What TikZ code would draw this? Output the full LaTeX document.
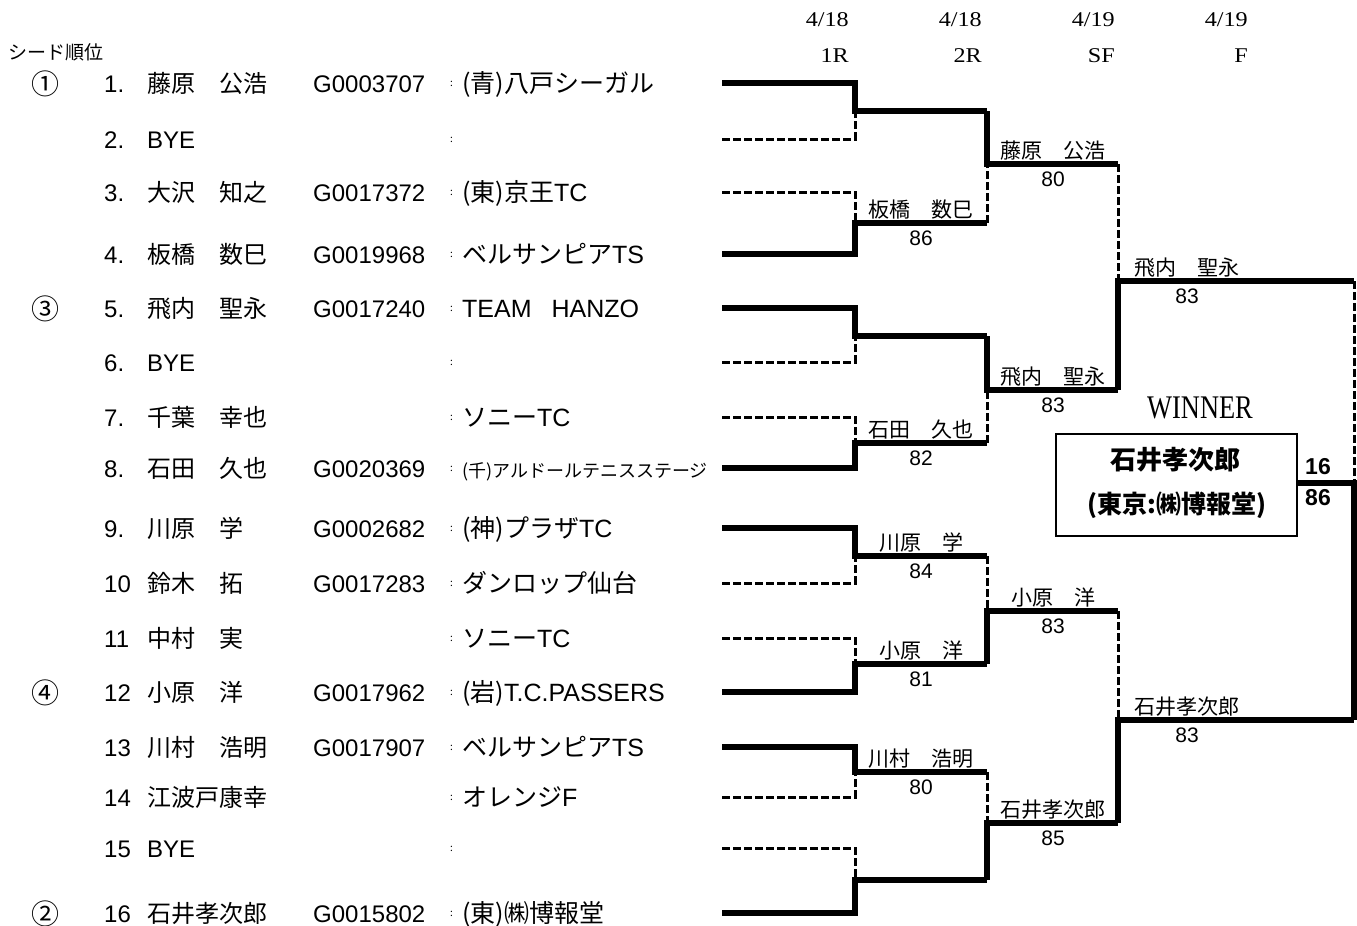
\documentclass[tikz,border=0pt]{standalone}
\usepackage{fontspec}
\setmainfont{Noto Sans CJK JP}
\newfontfamily\lat{Liberation Sans}
\newfontfamily\serf[FakeStretch=1.15]{Liberation Serif}
\newfontfamily\winf[FakeStretch=0.8]{Liberation Serif}
\newcommand\fs[1]{\fontsize{#1}{#1}\selectfont}
\begin{document}
\begin{tikzpicture}[x=1pt,y=-1pt,
  win/.style={line width=6pt},
  los/.style={line width=3pt, dash pattern=on 8pt off 3pt},
  ent/.style={anchor=base west, inner sep=0pt},
  lbl/.style={anchor=base, inner sep=0pt, font=\fs{21}},
  scr/.style={anchor=base, inner sep=0pt, font=\lat\fs{21}},
  hdr/.style={anchor=base east, inner sep=0pt, font=\serf\fs{21}},
  seed/.style={inner sep=0pt, font=\fs{28}},
]
\useasboundingbox (0,0) rectangle (1357,926);

% header
\node[anchor=base west, inner sep=0pt, font=\fs{19}] (seedhdr) at (8,59) {シード順位};
\node[hdr] (d1) at (849,27) {4/18};
\node[hdr] (d2) at (982,27) {4/18};
\node[hdr] (d3) at (1115,27) {4/19};
\node[hdr] (d4) at (1248,27) {4/19};
\node[hdr] (r1) at (849,62) {1R};
\node[hdr] (r2) at (982,62) {2R};
\node[hdr] (r3) at (1115,62) {SF};
\node[hdr] (r4) at (1248,62) {F};

% seeds
\node[seed] (sd1) at (45,84) {①};
\node[seed] (sd3) at (45,309) {③};
\node[seed] (sd4) at (45,693) {④};
\node[seed] (sd2) at (45,914) {②};

% entries
\foreach \i/\y/\num/\nm/\id/\tm in {
1/83/1./藤原　公浩/G0003707/(青)八戸シーガル,
2/139/2./{\lat BYE}//,
3/192/3./大沢　知之/G0017372/(東)京王{\lat TC},
4/254/4./板橋　数巳/G0019968/ベルサンピア{\lat TS},
5/308/5./飛内　聖永/G0017240/{\lat TEAM\hspace{20pt}HANZO},
6/362/6./{\lat BYE}//,
7/417/7./千葉　幸也//ソニー{\lat TC},
8/468/8./石田　久也/G0020369/{\fs{18}(千)アルドールテニスステージ},
9/528/9./川原　学/G0002682/(神)プラザ{\lat TC},
10/583/10/鈴木　拓/G0017283/ダンロップ仙台,
11/638/11/中村　実//ソニー{\lat TC},
12/692/12/小原　洋/G0017962/(岩){\lat T.C.PASSERS},
13/747/13/川村　浩明/G0017907/ベルサンピア{\lat TS},
14/797/14/江波戸康幸//オレンジ{\lat F},
15/848/15/{\lat BYE}//,
16/913/16/石井孝次郎/G0015802/(東)㈱博報堂}{
  \node[ent, font=\lat\fs{24}] (num\i) at (104,\y+9) {\num};
  \node[ent, font=\fs{24}] (nm\i) at (147,\y+9) {\nm};
  \node[ent, font=\lat\fs{24}] (id\i) at (313,\y+9) {\id};
  \node[ent, font=\fs{10}] (col\i) at (450,\y+3.5) {:};
  \node[ent, font=\fs{25}] (tm\i) at (462,\y+9) {\tm};
  \coordinate (a\i) at (722,\y);
  \coordinate (b\i) at (855,\y);
}

% junction coordinates
\foreach \i/\y in {1/111,2/223,3/336,4/443,5/556,6/664,7/772,8/880}{
  \coordinate (M\i) at (855,\y); \coordinate (Mr\i) at (987,\y);}
\foreach \i/\y in {1/164,2/390,3/611,4/823}{
  \coordinate (N\i) at (987,\y); \coordinate (Nr\i) at (1118,\y);}
\foreach \i/\y in {1/281,2/720}{
  \coordinate (S\i) at (1118,\y); \coordinate (Sr\i) at (1354,\y);}
\coordinate (Fc) at (1354,483);

% winner box
\node[draw, line width=1.5pt, minimum width=241pt, minimum height=102pt, inner sep=0pt] (box) at (1176.5,485) {};
\node[font=\winf\fs{33}, inner sep=0pt] (winner) at (1200,408) {WINNER};
\node[font=\bfseries\fs{26}, inner sep=0pt] (wname) at (1175,460) {石井孝次郎};
\node[font=\bfseries\fs{25}, inner sep=0pt] (wteam) at (1177,505) {(東京:㈱博報堂)};

% round 1
\foreach \w/\l/\m in {1/2/1,4/3/2,5/6/3,8/7/4,9/10/5,12/11/6,13/14/7,16/15/8}{
  \draw[los] (a\l) -- (b\l) -- (M\m);
  \draw[win] (a\w) -- (b\w) -- (M\m) -- (Mr\m);}
% round 2
\foreach \w/\l/\n in {1/2/1,3/4/2,6/5/3,8/7/4}{
  \draw[los] (Mr\l) -- (N\n);
  \draw[win] (Mr\w) -- (N\n) -- (Nr\n);}
% semifinal
\foreach \w/\l/\s in {2/1/1,4/3/2}{
  \draw[los] (Nr\l) -- (S\s);
  \draw[win] (Nr\w) -- (S\s) -- (Sr\s);}
% final
\draw[los] (Sr1) -- (Fc);
\draw[win] (Sr2) -- (Fc) -- (box.east |- Fc);

% round labels
\node[lbl] (l2) at (921,217) {板橋　数巳};
\node[scr] (s2) at (921,245) {86};
\node[lbl] (l4) at (921,437) {石田　久也};
\node[scr] (s4) at (921,465) {82};
\node[lbl] (l5) at (921,550) {川原　学};
\node[scr] (s5) at (921,578) {84};
\node[lbl] (l6) at (921,658) {小原　洋};
\node[scr] (s6) at (921,686) {81};
\node[lbl] (l7) at (921,766) {川村　浩明};
\node[scr] (s7) at (921,794) {80};
\node[lbl] (q1) at (1053,158) {藤原　公浩};
\node[scr] (t1) at (1053,186) {80};
\node[lbl] (q2) at (1053,384) {飛内　聖永};
\node[scr] (t2) at (1053,412) {83};
\node[lbl] (q3) at (1053,605) {小原　洋};
\node[scr] (t3) at (1053,633) {83};
\node[lbl] (q4) at (1053,817) {石井孝次郎};
\node[scr] (t4) at (1053,845) {85};
\node[lbl] (u1) at (1187,275) {飛内　聖永};
\node[scr] (v1) at (1187,303) {83};
\node[lbl] (u2) at (1187,714) {石井孝次郎};
\node[scr] (v2) at (1187,742) {83};
\node[font=\lat\bfseries\fs{23}, inner sep=0pt] (f16) at (1318,467) {16};
\node[font=\lat\bfseries\fs{23}, inner sep=0pt] (f86) at (1318,498) {86};
\end{tikzpicture}
\end{document}
